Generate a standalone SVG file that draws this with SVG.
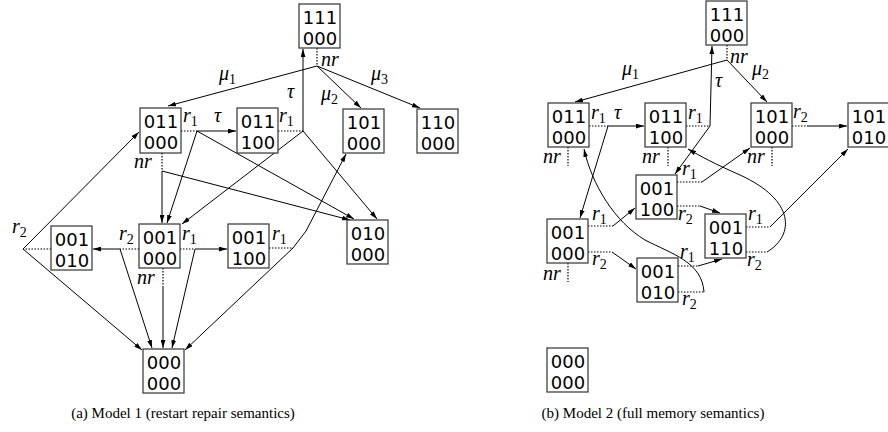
<svg xmlns="http://www.w3.org/2000/svg" width="888" height="432" viewBox="0 0 888 432">
<defs>
<style>
.box{fill:#fff;stroke:#333;stroke-width:1.2}
.num{font-family:"DejaVu Sans",sans-serif;font-size:18px;text-anchor:middle;fill:#000}
.lbl{font-family:"Liberation Serif",serif;font-style:italic;font-size:20px;fill:#000}
.sub{font-size:14px;font-style:normal}
.e{stroke:#000;stroke-width:1;fill:none;marker-end:url(#ah)}
.d{stroke:#000;stroke-width:1.2;stroke-dasharray:1.5 1.5;fill:none}
.cap{font-family:"Liberation Serif",serif;font-size:15px;text-anchor:middle;fill:#000}
</style>
<marker id="ah" viewBox="0 0 10 6" refX="10" refY="3" markerWidth="8" markerHeight="5" orient="auto" markerUnits="userSpaceOnUse"><path d="M0,0 L10,3 L0,6 z" fill="#000"/></marker>
</defs>
<rect width="888" height="432" fill="#fff"/>

<g id="connectors">
<path class="d" d="M317,48V66 M181,131H197 M162,153V171 M278,131H303 M139,249H120 M180,249H195 M163,268V286 M51,249H23 M269,248H293"/>
<path class="e" d="M317,66L168,106"/>
<path class="e" d="M317,66L361,108"/>
<path class="e" d="M317,66L420,108"/>
<path class="e" d="M303,131V49"/>
<path class="e" d="M197,131H236"/>
<path class="e" d="M197,131L167,223"/>
<path class="e" d="M197,131L354,219"/>
<path class="e" d="M162,171V223"/>
<path class="e" d="M162,171L350,220"/>
<path class="e" d="M303,131L182,224"/>
<path class="e" d="M303,131L377,219"/>
<path class="e" d="M23,249L139,132"/>
<path class="e" d="M23,249L142,350"/>
<path class="e" d="M120,249H93"/>
<path class="e" d="M120,249L152,348"/>
<path class="e" d="M163,286V348"/>
<path class="e" d="M195,249H227"/>
<path class="e" d="M195,249L172,348"/>
<path class="e" d="M293,248L306,231L346,154"/>
<path class="e" d="M293,248L185,350"/>
<path class="d" d="M727,45V60 M589,126H608 M568,147V166 M686,126H710 M668,147V166 M792,126H808 M772,147V166 M677,182H702 M677,206H700 M588,226H613 M588,252H612 M568,263V282 M746,227H770 M746,252H767 M678,266H698 M678,292H704"/>
<path class="e" d="M727,60L575,102"/>
<path class="e" d="M727,60L767,102"/>
<path class="e" d="M710,126L712,46"/>
<path class="e" d="M710,126L675,174"/>
<path class="e" d="M608,126H644"/>
<path class="e" d="M608,126L580,218"/>
<path class="e" d="M808,126H847"/>
<path class="e" d="M702,182L750,148"/>
<path class="e" d="M700,206L720,213"/>
<path class="e" d="M613,226L635,208"/>
<path class="e" d="M612,252L636,269"/>
<path class="e" d="M698,266L722,259"/>
<path class="e" d="M770,227L848,149"/>
<path class="e" d="M767,252C795,235 795,200 740,175C715,164 700,156 688,149"/>
<path class="e" d="M704,292C702,262 672,254 645,240C615,222 592,185 584,149"/>
</g>

<g id="a111"><rect class="box" x="299" y="4" width="41" height="44"/><text class="num" x="320" y="24">111</text><text class="num" x="320" y="45">000</text></g>
<g id="a011_000"><rect class="box" x="140" y="108" width="41" height="45"/><text class="num" x="161" y="128">011</text><text class="num" x="161" y="149">000</text></g>
<g id="a011_100"><rect class="box" x="237" y="108" width="41" height="45"/><text class="num" x="258" y="128">011</text><text class="num" x="258" y="149">100</text></g>
<g id="a101_000"><rect class="box" x="343" y="109" width="41" height="44"/><text class="num" x="364" y="129">101</text><text class="num" x="364" y="150">000</text></g>
<g id="a110_000"><rect class="box" x="417" y="109" width="41" height="44"/><text class="num" x="438" y="129">110</text><text class="num" x="438" y="150">000</text></g>
<g id="a001_010"><rect class="box" x="51" y="226" width="41" height="44"/><text class="num" x="72" y="246">001</text><text class="num" x="72" y="267">010</text></g>
<g id="a001_000"><rect class="box" x="139" y="224" width="41" height="44"/><text class="num" x="160" y="244">001</text><text class="num" x="160" y="265">000</text></g>
<g id="a001_100"><rect class="box" x="228" y="224" width="41" height="44"/><text class="num" x="249" y="244">001</text><text class="num" x="249" y="265">100</text></g>
<g id="a010_000"><rect class="box" x="347" y="220" width="41" height="44"/><text class="num" x="368" y="240">010</text><text class="num" x="368" y="261">000</text></g>
<g id="a000_000"><rect class="box" x="143" y="349" width="41" height="44"/><text class="num" x="164" y="369">000</text><text class="num" x="164" y="390">000</text></g>

<g id="b111"><rect class="box" x="706" y="1" width="41" height="44"/><text class="num" x="727" y="21">111</text><text class="num" x="727" y="42">000</text></g>
<g id="b011_000"><rect class="box" x="548" y="103" width="41" height="44"/><text class="num" x="569" y="123">011</text><text class="num" x="569" y="144">000</text></g>
<g id="b011_100"><rect class="box" x="645" y="103" width="41" height="44"/><text class="num" x="666" y="123">011</text><text class="num" x="666" y="144">100</text></g>
<g id="b101_000"><rect class="box" x="751" y="103" width="41" height="44"/><text class="num" x="772" y="123">101</text><text class="num" x="772" y="144">000</text></g>
<g id="b101_010"><rect class="box" x="848" y="103" width="41" height="44"/><text class="num" x="869" y="123">101</text><text class="num" x="869" y="144">010</text></g>
<g id="b001_100"><rect class="box" x="636" y="175" width="41" height="44"/><text class="num" x="657" y="195">001</text><text class="num" x="657" y="216">100</text></g>
<g id="b001_000"><rect class="box" x="547" y="219" width="41" height="44"/><text class="num" x="568" y="239">001</text><text class="num" x="568" y="260">000</text></g>
<g id="b001_110"><rect class="box" x="705" y="214" width="41" height="44"/><text class="num" x="726" y="234">001</text><text class="num" x="726" y="255">110</text></g>
<g id="b001_010"><rect class="box" x="637" y="258" width="41" height="44"/><text class="num" x="658" y="278">001</text><text class="num" x="658" y="299">010</text></g>
<g id="b000_000"><rect class="box" x="547" y="348" width="41" height="44"/><text class="num" x="568" y="368">000</text><text class="num" x="568" y="389">000</text></g>

<g id="labels-a">
<text class="lbl" x="219" y="80">μ<tspan class="sub" dy="4">1</tspan></text>
<text class="lbl" x="321" y="100">μ<tspan class="sub" dy="4">2</tspan></text>
<text class="lbl" x="371" y="80">μ<tspan class="sub" dy="4">3</tspan></text>
<text class="lbl" x="321" y="66">nr</text>
<text class="lbl" x="287" y="98">τ</text>
<text class="lbl" x="183" y="122">r<tspan class="sub" dy="4">1</tspan></text>
<text class="lbl" x="214" y="122">τ</text>
<text class="lbl" x="279" y="122">r<tspan class="sub" dy="4">1</tspan></text>
<text class="lbl" x="134" y="168">nr</text>
<text class="lbl" x="119" y="240">r<tspan class="sub" dy="4">2</tspan></text>
<text class="lbl" x="182" y="240">r<tspan class="sub" dy="4">1</tspan></text>
<text class="lbl" x="137" y="284">nr</text>
<text class="lbl" x="12" y="233">r<tspan class="sub" dy="4">2</tspan></text>
<text class="lbl" x="272" y="240">r<tspan class="sub" dy="4">1</tspan></text>
</g>
<g id="labels-b">
<text class="lbl" x="622" y="75">μ<tspan class="sub" dy="4">1</tspan></text>
<text class="lbl" x="752" y="75">μ<tspan class="sub" dy="4">2</tspan></text>
<text class="lbl" x="715" y="87">τ</text>
<text class="lbl" x="730" y="63">nr</text>
<text class="lbl" x="591" y="119">r<tspan class="sub" dy="4">1</tspan></text>
<text class="lbl" x="614" y="119">τ</text>
<text class="lbl" x="688" y="119">r<tspan class="sub" dy="4">1</tspan></text>
<text class="lbl" x="793" y="118">r<tspan class="sub" dy="4">2</tspan></text>
<text class="lbl" x="543" y="163">nr</text>
<text class="lbl" x="642" y="163">nr</text>
<text class="lbl" x="747" y="163">nr</text>
<text class="lbl" x="682" y="175">r<tspan class="sub" dy="4">1</tspan></text>
<text class="lbl" x="678" y="220">r<tspan class="sub" dy="4">2</tspan></text>
<text class="lbl" x="592" y="220">r<tspan class="sub" dy="4">1</tspan></text>
<text class="lbl" x="592" y="265">r<tspan class="sub" dy="4">2</tspan></text>
<text class="lbl" x="543" y="280">nr</text>
<text class="lbl" x="748" y="220">r<tspan class="sub" dy="4">1</tspan></text>
<text class="lbl" x="747" y="266">r<tspan class="sub" dy="4">2</tspan></text>
<text class="lbl" x="680" y="258">r<tspan class="sub" dy="4">1</tspan></text>
<text class="lbl" x="682" y="305">r<tspan class="sub" dy="4">2</tspan></text>
</g>

<text class="cap" x="183" y="418">(a) Model 1 (restart repair semantics)</text>
<text class="cap" x="653" y="418">(b) Model 2 (full memory semantics)</text>
</svg>
